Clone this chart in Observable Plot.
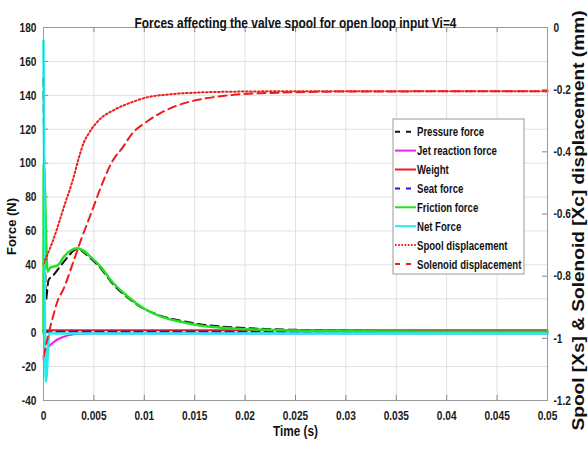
<!DOCTYPE html>
<html><head><meta charset="utf-8">
<script src="https://cdn.jsdelivr.net/npm/d3@7"></script>
<script src="https://cdn.jsdelivr.net/npm/@observablehq/plot@0.6"></script>
<style>
body{margin:0;background:#fff;}
#chart svg{display:block;}
</style></head><body><div id="chart"></div>
<script>
// ---- data ----
const titleText = "Forces affecting the valve spool for open loop input Vi=4";
const xLabel = "Time (s)";
const yLabelLeft = "Force (N)";
const yLabelRight = "Spool [Xs] & Solenoid [Xc] displacement (mm)";
const xTicks = [0,0.005,0.01,0.015,0.02,0.025,0.03,0.035,0.04,0.045,0.05];
const yTicks = [-40,-20,0,20,40,60,80,100,120,140,160,180];
const rightTicks = [0,-0.2,-0.4,-0.6,-0.8,-1,-1.2];

const pressureT = [0,0.00025,0.0005,0.001,0.0017,0.0024,0.003,0.0035,0.0039,0.0047,0.0057,0.0067,0.0085,0.01,0.0118,0.0135,0.0155,0.0178,0.02,0.022,0.025,0.03,0.035,0.05];
const pressureF = [150,20,31,34,39.5,44.5,48.5,49.5,47.8,43.8,37.8,30,20,14,9.6,7.2,5,3.6,2.7,2.2,1.7,1.2,1.0,0.8];

const jetT = [0,0.0004,0.001,0.002,0.003,0.0044,0.05];
const jetF = [-16,-9.5,-5.6,-2.4,-1.0,-0.5,-0.5];

const weightT = [0,0.05];
const weightF = [1.5,1.5];

const seatT = [0,0.05];
const seatF = [0.5,0.5];

const frictionT = [0,0.00002,0.0004,0.0007,0.0014,0.002,0.0027,0.0034,0.0039,0.0047,0.0057,0.0067,0.0085,0.01,0.0118,0.0135,0.0155,0.0178,0.0197,0.022,0.025,0.03,0.04,0.05];
const frictionF = [0,100,36,38.5,39.7,44.6,48.5,49.8,48.5,44.6,38.7,30.8,20.6,14.1,9.2,6.6,4.3,2.9,2.1,1.7,1.2,0.8,0.5,0.5];

const netT = [0,0.00023,0.0006,0.001,0.05];
const netF = [172,-29,0,-0.5,-0.5];

const spoolT = [0,0.0002,0.001,0.002,0.003,0.0035,0.004,0.0045,0.0055,0.0072,0.0088,0.0105,0.0122,0.0155,0.02,0.025,0.05];
const spoolD = [-0.76,-0.745,-0.68,-0.58,-0.48,-0.42,-0.37,-0.34,-0.298,-0.262,-0.240,-0.223,-0.216,-0.209,-0.206,-0.205,-0.205];

const solT = [0,0.0004,0.0009,0.0014,0.002,0.003,0.0037,0.0047,0.0057,0.0068,0.0079,0.0088,0.0102,0.0115,0.0131,0.0151,0.0171,0.0194,0.022,0.0253,0.03,0.05];
const solD = [-1.06,-1.0,-0.935,-0.88,-0.84,-0.75,-0.685,-0.60,-0.513,-0.432,-0.384,-0.341,-0.304,-0.277,-0.253,-0.234,-0.223,-0.215,-0.211,-0.208,-0.206,-0.205];

const legendLabels = ["Pressure force","Jet reaction force","Weight","Seat force","Friction force","Net Force","Spool displacement","Solenoid displacement"];
const legendColors = ["#111111","#ee22ee","#ee1c1c","#1a1adc","#22e022","#22eeee","#ee1c1c","#ee1c1c"];
const legendDash = ["5,6",null,null,"5,6",null,null,"1.6,1.6","5,6"];

// ---- helpers ----
const toLeft = d => d * (220/1.2) + 180;   // right-axis (mm) -> left-axis (N) scale
const series = (T, V, f = v => v) => T.map((t, i) => ({t, v: f(V[i])}));

const sans = '"Liberation Sans",Arial,sans-serif';
const lineOpts = (stroke, w, dash) => ({x:"t", y:"v", stroke, strokeWidth:w, strokeDasharray:dash, curve:"monotone-x"});

const chart = Plot.plot({
  width:588, height:449,
  marginLeft:43, marginRight:41, marginTop:27, marginBottom:49,
  style:{fontFamily:sans, fontSize:"13.5px", fontWeight:"bold", color:"#1a1a1a", background:"#fff"},
  x:{domain:[0,0.05]},
  y:{domain:[-40,180]},
  marks:[
    Plot.gridX(xTicks,{stroke:"#e0e0e0", strokeOpacity:1}),
    Plot.gridY(yTicks,{stroke:"#e0e0e0", strokeOpacity:1}),
    Plot.axisX(xTicks,{tickSize:0, tickPadding:10, tickFormat:d => String(d), label:null}),
    Plot.axisY(yTicks,{anchor:"left", tickSize:0, tickPadding:7, tickFormat:d => String(d), label:null}),
    Plot.axisY(rightTicks.map(toLeft),{anchor:"right", tickSize:0, tickPadding:6,
      tickFormat:v => String(+(((v-180)/(220/1.2)).toFixed(1))), label:null}),
    Plot.ruleY(yTicks,{x1:0, x2:0.0005, stroke:"#888"}),
    Plot.ruleY(rightTicks.map(toLeft),{x1:0.0495, x2:0.05, stroke:"#888"}),
    Plot.ruleX(xTicks,{y1:-40, y2:-37, stroke:"#888"}),
    Plot.ruleX(xTicks,{y1:177, y2:180, stroke:"#888"}),
    Plot.line(series(pressureT, pressureF), lineOpts("#111111", 2, "8,5")),
    Plot.line(series(jetT, jetF), lineOpts("#ee22ee", 2)),
    Plot.line(series(weightT, weightF), lineOpts("#ee1c1c", 2)),
    Plot.line(series(seatT, seatF), lineOpts("#1a1adc", 2, "8,5")),
    Plot.line(series(frictionT, frictionF), lineOpts("#22e022", 2.5)),
    Plot.line(series(netT, netF), lineOpts("#22eeee", 2.5)),
    Plot.line(series(spoolT, spoolD, toLeft), lineOpts("#ee1c1c", 2, "1.6,2.4")),
    Plot.line(series(solT, solD, toLeft), lineOpts("#ee1c1c", 2, "8,5")),
    Plot.frame({stroke:"#999"}),
    Plot.text([titleText],{frameAnchor:"top", textAnchor:"middle", dy:-10, text:d=>d, fontSize:15, fontWeight:"bold", fill:"#111"}),
    Plot.text([xLabel],{frameAnchor:"bottom", textAnchor:"middle", dy:35, text:d=>d, fontSize:14.5, fontWeight:"bold", fill:"#111"}),
    Plot.text([yLabelLeft],{frameAnchor:"left", textAnchor:"middle", dx:-32, dy:12.5, rotate:-90, text:d=>d, fontSize:13, fontWeight:"bold", fill:"#111"}),
    Plot.text([yLabelRight],{frameAnchor:"right", textAnchor:"middle", dx:31, dy:6.5, rotate:-90, text:d=>d, fontSize:17, fontWeight:"bold", fill:"#111"})
  ]
});
document.getElementById("chart").appendChild(chart);

// ---- legend inside the axes (box) ----
const svg = d3.select(chart);
const lg = svg.append("g").attr("font-family", sans).attr("font-weight","bold").attr("font-size", 13.5).attr("text-anchor","start");
const bx = 393, by = 119, bw = 131, bh = 155, rowH = 18.9, row0 = 131.7;
lg.append("rect").attr("x", bx).attr("y", by).attr("width", bw).attr("height", bh)
  .attr("fill", "#fff").attr("stroke", "#999");
legendLabels.forEach((lab, i) => {
  const yy = row0 + i * rowH;
  lg.append("line").attr("x1", bx + 2).attr("x2", bx + 23).attr("y1", yy).attr("y2", yy)
    .attr("stroke", legendColors[i]).attr("stroke-width", 2)
    .attr("stroke-dasharray", legendDash[i]);
  lg.append("text").attr("class","narrow").attr("x", bx + 24).attr("y", yy).attr("dy", "0.35em").attr("fill", "#111").text(lab);
});

// emulate the narrow bold face of the original
function squeeze(nodes, ratio) {
  nodes.forEach(n => {
    const L = n.getComputedTextLength();
    if (L > 0) { n.setAttribute("textLength", L * ratio); n.setAttribute("lengthAdjust", "spacingAndGlyphs"); }
  });
}
function fitTo(node, len) { node.setAttribute("textLength", len); node.setAttribute("lengthAdjust", "spacingAndGlyphs"); }
squeeze([...chart.querySelectorAll('g[aria-label$="tick label"] text')], 0.75);
squeeze([...chart.querySelectorAll('text.narrow')], 0.71);
const texts = [...chart.querySelectorAll('g[aria-label="text"] text')];
texts.forEach(t => {
  if (t.textContent === titleText) fitTo(t, 322);
  if (t.textContent === xLabel) fitTo(t, 45);
  if (t.textContent === yLabelRight) fitTo(t, 420);
});
</script></body></html>
